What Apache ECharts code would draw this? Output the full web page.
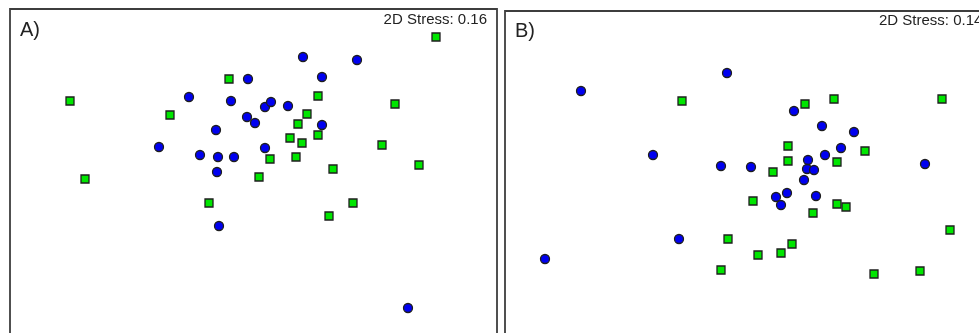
<!DOCTYPE html>
<html>
<head>
<meta charset="utf-8">
<script src="https://cdn.jsdelivr.net/npm/echarts@6/dist/echarts.min.js"></script>
<style>
  html, body { margin: 0; padding: 0; background: #fff; }
  #chart { width: 979px; height: 333px; }
</style>
</head>
<body>
<div id="chart"></div>
<script>
// nMDS ordination coordinates, [MDS1, MDS2]
var panelA_circles = [
  [0.50, 1.23], [1.04, 1.20], [-0.05, 1.01], [0.69, 1.03], [-0.64, 0.83],
  [-0.22, 0.79], [0.12, 0.73], [0.18, 0.78], [0.35, 0.74], [-0.06, 0.63],
  [0.02, 0.57], [-0.37, 0.50], [0.69, 0.55], [-0.94, 0.33], [-0.53, 0.25],
  [-0.35, 0.23], [-0.19, 0.23], [0.12, 0.32], [-0.36, 0.08], [-0.34, -0.46],
  [1.55, -1.28]
];
var panelA_squares = [
  [1.83, 1.43], [-1.83, 0.79], [-0.24, 1.01], [-0.83, 0.65], [0.65, 0.84],
  [1.42, 0.76], [0.54, 0.66], [0.45, 0.56], [0.37, 0.42], [0.49, 0.37],
  [0.65, 0.45], [1.29, 0.35], [0.17, 0.21], [0.43, 0.23], [0.80, 0.11],
  [1.66, 0.15], [-1.68, 0.01], [0.06, 0.03], [-0.44, -0.23], [1.00, -0.23],
  [0.76, -0.36]
];
var panelB_circles = [
  [-1.67, 0.91], [-0.21, 1.09], [0.46, 0.71], [0.74, 0.56], [1.06, 0.50],
  [-0.95, 0.27], [0.93, 0.34], [0.77, 0.27], [0.60, 0.22], [1.77, 0.18],
  [-0.27, 0.16], [0.03, 0.15], [0.59, 0.13], [0.66, 0.12], [0.56, 0.02],
  [0.39, -0.11], [0.28, -0.15], [0.68, -0.14], [0.33, -0.23], [-0.69, -0.57],
  [-2.03, -0.77]
];
var panelB_squares = [
  [-0.66, 0.81], [0.57, 0.78], [0.86, 0.83], [1.94, 0.83], [0.40, 0.36],
  [1.17, 0.31], [0.40, 0.21], [0.89, 0.20], [0.25, 0.10], [0.05, -0.19],
  [0.89, -0.22], [0.98, -0.25], [0.65, -0.31], [2.02, -0.48], [-0.20, -0.57],
  [0.44, -0.62], [0.10, -0.73], [0.33, -0.71], [-0.27, -0.88], [1.26, -0.92],
  [1.72, -0.89]
];
var panelLabels = ['A)', 'B)'];
var stressLabels = ['2D Stress: 0.16', '2D Stress: 0.14'];

var chart = echarts.init(document.getElementById('chart'));
var font = 'Liberation Sans, Arial, sans-serif';
var blue = '#0000f0';
var green = '#00e600';
var edge = '#1e1e1e';

function hiddenAxis(idx, min, max) {
  return {
    type: 'value', gridIndex: idx, min: min, max: max,
    axisLine: { show: false }, axisTick: { show: false },
    axisLabel: { show: false }, splitLine: { show: false }
  };
}

function pointSeries(idx, data, shape, color, size) {
  return {
    type: 'scatter',
    xAxisIndex: idx,
    yAxisIndex: idx,
    data: data,
    symbol: shape,
    symbolSize: size,
    itemStyle: { color: color, borderColor: edge, borderWidth: 1.3, opacity: 1 },
    silent: true
  };
}

function label(text, pos, size) {
  return Object.assign({
    text: text,
    padding: 0,
    textStyle: { fontFamily: font, fontSize: size, fontWeight: 'normal', color: '#222' }
  }, pos);
}

chart.setOption({
  backgroundColor: '#fff',
  animation: false,
  title: [
    label(panelLabels[0], { left: 20, top: 20 }, 20),
    label(stressLabels[0], { right: 492, top: 12 }, 15),
    label(panelLabels[1], { left: 515, top: 21 }, 20),
    label(stressLabels[1], { left: 879, top: 13 }, 15)
  ],
  grid: [
    { left: 10, top: 9, width: 487, height: 330, show: true, outerBoundsMode: 'none',
      borderColor: '#3e3e3e', borderWidth: 1.8, backgroundColor: '#fff' },
    { left: 505, top: 11, width: 487, height: 330, show: true, outerBoundsMode: 'none',
      borderColor: '#3e3e3e', borderWidth: 1.8, backgroundColor: '#fff' }
  ],
  xAxis: [hiddenAxis(0, -2.43, 2.44), hiddenAxis(1, -2.43, 2.44)],
  yAxis: [hiddenAxis(0, -1.59, 1.71), hiddenAxis(1, -1.59, 1.71)],
  series: [
    pointSeries(0, panelA_circles, 'circle', blue, 9),
    pointSeries(0, panelA_squares, 'rect', green, 8),
    pointSeries(1, panelB_circles, 'circle', blue, 9),
    pointSeries(1, panelB_squares, 'rect', green, 8)
  ]
});
</script>
</body>
</html>
